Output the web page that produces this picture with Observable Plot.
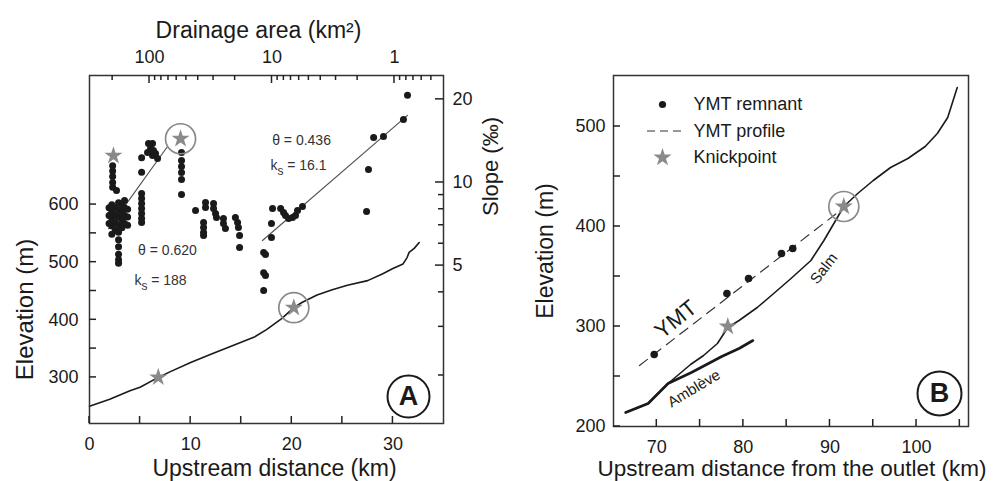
<!DOCTYPE html>
<html><head><meta charset="utf-8">
<script src="https://cdn.jsdelivr.net/npm/d3@7"></script>
<script src="https://cdn.jsdelivr.net/npm/@observablehq/plot@0.6"></script>
<style>
body{margin:0;background:#fff;}
#wrap{position:relative;width:995px;height:481px;background:#fff;}
#wrap svg{position:absolute;left:0;top:0;}
</style></head><body><div id="wrap"></div>
<script>
// ---------- Panel A: longitudinal profile (elevation vs upstream distance) ----------
const profileDist = [0, 2, 4, 5, 6.8, 8, 10, 12, 14, 16.3, 17.5, 19, 20.2, 21, 22.5, 24, 25.5, 27.5, 29, 30, 31, 31.4, 31.6, 32.1, 32.6];
const profileElev = [250, 262, 277, 283, 300, 310, 326, 340, 354, 370, 383, 402, 421, 430, 443, 452, 460, 468, 480, 489, 497, 508, 517, 524, 534];
const knickADist = [6.8, 20.2];
const knickAElev = [300, 421];
const knickACircled = [false, true];

// ---------- Panel A: slope-area data (drainage area km2, slope permil) ----------
const slopeDots = [
  [214,8.1],[214,7.6],[214,7.1],
  [200,11.5],[200,11.0],[200,10.5],[200,10.0],[200,9.6],[203,8.3],[203,7.85],[203,7.4],[203,6.95],[203,6.5],
  [186,9.35],
  [190,8.1],[190,7.6],[190,7.15],[190,6.7],
  [179,8.45],[179,7.95],[179,7.5],[179,7.0],[179,6.6],[179,6.2],[179,5.85],[179,5.5],[179,5.25],[179,5.1],
  [168,8.3],[168,7.8],[168,7.3],[168,6.85],
  [160,8.6],[160,8.1],[160,7.6],[160,7.1],
  [151,8.0],[151,7.5],[151,7.0],
  [116,12.3],[116,10.9],[116,9.13],[116,8.75],[116,8.39],[116,8.05],[116,7.72],[116,7.4],[116,7.16],
  [101.9,13.85],[94.5,13.85],[98.1,13.28],[92.8,13.06],[89.3,12.74],[86.0,12.2],[94.5,12.53],[103.8,12.85],
  [54.8,12.85],[54.8,12.0],[54.8,11.43],[54.8,10.87],[54.8,10.25],[54.8,9.05],
  [42.1,7.91],[34.9,8.46],[34.9,8.11],[36.2,7.16],[36.2,6.87],[36.2,6.59],[36.2,6.42],
  [30.0,8.39],[30.0,8.05],[28.9,7.72],[28.4,7.46],[24.9,7.4],[24.9,7.1],[24.0,6.81],
  [19.9,7.46],[19.1,7.16],[18.8,6.87],[18.4,6.42],[18.4,5.81],
  [9.9,8.05],[8.5,8.05],[8.05,7.78],[7.76,7.59],[7.33,7.4],[6.8,7.46],[6.43,7.59],[6.19,7.91],[5.64,8.18],
  [10.1,7.1],[10.1,6.32],[11.7,5.58],[11.3,5.49],[11.7,4.71],[11.3,4.6],[11.7,4.06],
  [0.783,20.7],[0.845,16.9],[1.48,14.56],[1.23,14.68],[1.63,11.15],[1.69,7.85]
];
const fit1 = [[216, 6.81], [71.3, 13.5]];
const fit2 = [[11.96, 6.16], [0.783, 17.5]];
const knickSArea = [197, 55.8];
const knickSSlope = [12.5, 14.4];
const knickSCircled = [false, true];
const fitLabels = [
  {a: 71.3, s: 5.67, t: "θ = 0.620"},
  {a: 81.3, s: 4.41, t: "ks = 188"},
  {a: 5.74, s: 14.2, t: "θ = 0.436"},
  {a: 6.08, s: 11.5, t: "ks = 16.1"}
];

// ---------- Panel B ----------
const salmDist = [66.4, 69.0, 71.3, 73.9, 75.4, 77.0, 78.2, 79.5, 81.6, 83.5, 85.5, 87.8, 89.3, 91.6, 93.2, 95, 97.0, 99.0, 101, 102.4, 103.6, 104.7];
const salmElev = [214, 223, 243, 262, 271, 283, 299, 306, 319, 333, 348, 366, 386, 420, 433, 446, 459, 468, 480, 493, 509, 539];
const ambleveDist = [66.4, 69.0, 71.3, 74, 77.5, 79.5, 81.1];
const ambleveElev = [214, 223, 243, 254, 270, 278, 286];
const ymtProfileDist = [68, 91.5];
const ymtProfileElev = [261, 418];
const ymtRemnantDist = [69.7, 78.1, 80.6, 84.4, 85.7];
const ymtRemnantElev = [272, 333, 348, 373, 378];
const knickBDist = [78.2, 91.6];
const knickBElev = [300, 420];
const knickBCircled = [false, true];
const riverLabels = [
  {x: 72.2, y: 307, t: "YMT", r: -39, size: 22},
  {x: 89.3, y: 358, t: "Salm", r: -52, size: 15},
  {x: 74.3, y: 238, t: "Amblève", r: -31, size: 15}
];

// ---------- ticks ----------
const distTicks = [0, 10, 20, 30], distMinor = [5, 15, 25];
const elevTicks = [300, 400, 500, 600], elevMinor = [350, 450, 550];
const areaTicks = [100, 10, 1];
const areaMinor = [200, 90, 80, 70, 60, 50, 40, 30, 20, 9, 8, 7, 6, 5, 4, 3, 2, 0.9, 0.8, 0.7, 0.6, 0.5];
const slopeTicks = [20, 10, 5], slopeMinor = [2, 3, 4, 6, 7, 8, 9];
const bDistTicks = [70, 80, 90, 100], bDistMinor = [75, 85, 95, 105];
const bElevTicks = [200, 300, 400, 500], bElevMinor = [250, 350, 450];

const FONT = "'Liberation Sans', Arial, Helvetica, sans-serif";
const INK = "#1a1a1a", GREY = "#8a8a8a", TICK = "#222";
const W = 995, H = 481;
const common = {width: W, height: H, style: {background: "transparent", fontFamily: FONT, fontSize: "18px", color: INK, overflow: "visible"}};
const C = {textAnchor: "middle", lineAnchor: "middle", fill: INK};

const profile = profileDist.map((d, i) => ({d, e: profileElev[i]}));
const knickA = knickADist.map((d, i) => ({d, e: knickAElev[i], c: knickACircled[i]}));

const mA = {marginLeft: 89, marginRight: 552, marginTop: 75, marginBottom: 58};
const A1 = Plot.plot({
  ...common, ...mA,
  x: {domain: [0, 35]},
  y: {domain: [220, 824]},
  marks: [
    Plot.axisX(distTicks, {tickSize: 0, tickPadding: 14, fontSize: 18, label: null}),
    Plot.axisY(elevTicks, {tickSize: 0, tickPadding: 11, fontSize: 18, label: null}),
    Plot.line(profile, {x: "d", y: "e", stroke: INK, strokeWidth: 1.6}),
    Plot.dot(knickA.filter(k => k.c), {x: "d", y: "e", r: 15, stroke: GREY, strokeWidth: 1.7, fill: "none"}),
    Plot.dot(knickA, {x: "d", y: "e", symbol: "star", r: 5.7, fill: GREY}),
    Plot.frame({stroke: "#333", strokeWidth: 1.5}),
    Plot.dot([0], {frameAnchor: "bottom-right", dx: -35, dy: -27, r: 21, stroke: INK, strokeWidth: 2, fill: "white"}),
    Plot.text(["A"], {...C, frameAnchor: "bottom-right", dx: -35, dy: -27, fontSize: 27, fontWeight: "bold"}),
    Plot.text(["Elevation (m)"], {...C, frameAnchor: "left", dx: -64, dy: 60, rotate: -90, fontSize: 24}),
    Plot.text(["Upstream distance (km)"], {...C, frameAnchor: "bottom", dx: 8, dy: 45, fontSize: 23})
  ]
});

const dots = slopeDots.map(([a, s]) => ({a, s}));
const f1 = fit1.map(([a, s]) => ({a, s}));
const f2 = fit2.map(([a, s]) => ({a, s}));
const knickS = knickSArea.map((a, i) => ({a, s: knickSSlope[i], c: knickSCircled[i]}));

const A2 = Plot.plot({
  ...common, ...mA,
  x: {type: "log", domain: [309, 0.398]},
  y: {type: "log", domain: [1.34, 24.4]},
  marks: [
    Plot.axisX(areaTicks, {anchor: "top", tickSize: 0, tickPadding: 13, fontSize: 18, tickFormat: d => String(d), label: null}),
    Plot.axisY(slopeTicks, {anchor: "right", tickSize: 0, tickPadding: 9, fontSize: 18, tickFormat: d => String(d), label: null}),
    Plot.line(f1, {x: "a", y: "s", stroke: "#555", strokeWidth: 1.2}),
    Plot.line(f2, {x: "a", y: "s", stroke: "#555", strokeWidth: 1.2}),
    Plot.dot(dots, {x: "a", y: "s", r: 3.5, fill: INK}),
    Plot.dot(knickS.filter(k => k.c), {x: "a", y: "s", r: 15, stroke: GREY, strokeWidth: 1.7, fill: "none"}),
    Plot.dot(knickS, {x: "a", y: "s", symbol: "star", r: 5.7, fill: GREY}),
    Plot.text(fitLabels, {x: "a", y: "s", text: "t", fontSize: 14, fill: "#333"}),
    Plot.text(["Drainage area (km²)"], {...C, frameAnchor: "top", dx: -8, dy: -45, fontSize: 23}),
    Plot.text(["Slope (‰)"], {...C, frameAnchor: "right", dx: 47, dy: -83, rotate: -90, fontSize: 22})
  ]
});

const salm = salmDist.map((x, i) => ({x, y: salmElev[i]}));
const amb = ambleveDist.map((x, i) => ({x, y: ambleveElev[i]}));
const ymtP = ymtProfileDist.map((x, i) => ({x, y: ymtProfileElev[i]}));
const ymtR = ymtRemnantDist.map((x, i) => ({x, y: ymtRemnantElev[i]}));
const knickB = knickBDist.map((x, i) => ({x, y: knickBElev[i], c: knickBCircled[i]}));

const mB = {marginLeft: 613, marginRight: 27, marginTop: 75, marginBottom: 55};
const B = Plot.plot({
  ...common, ...mB,
  x: {domain: [65.0, 106.0]},
  y: {domain: [200, 551]},
  marks: [
    Plot.axisX(bDistTicks, {tickSize: 0, tickPadding: 14, fontSize: 18, label: null}),
    Plot.axisY(bElevTicks, {tickSize: 0, tickPadding: 8, fontSize: 18, label: null}),
    Plot.line(ymtP, {x: "x", y: "y", stroke: "#333", strokeWidth: 1.2, strokeDasharray: "10,7"}),
    Plot.line(amb, {x: "x", y: "y", stroke: INK, strokeWidth: 2.6}),
    Plot.line(salm, {x: "x", y: "y", stroke: INK, strokeWidth: 1.6}),
    Plot.dot(ymtR, {x: "x", y: "y", r: 3.8, fill: INK}),
    Plot.dot(knickB.filter(k => k.c), {x: "x", y: "y", r: 15, stroke: GREY, strokeWidth: 1.7, fill: "none"}),
    Plot.dot(knickB, {x: "x", y: "y", symbol: "star", r: 5.7, fill: GREY}),
    Plot.text(riverLabels, {x: "x", y: "y", text: "t", rotate: "r", fontSize: d => d.size, fill: INK}),
    Plot.frame({stroke: "#333", strokeWidth: 1.5}),
    Plot.dot([0], {frameAnchor: "bottom-right", dx: -29, dy: -33, r: 22, stroke: INK, strokeWidth: 2, fill: "white"}),
    Plot.text(["B"], {...C, frameAnchor: "bottom-right", dx: -29, dy: -33, fontSize: 27, fontWeight: "bold"}),
    // legend
    Plot.dot([0], {frameAnchor: "top-left", dx: 49, dy: 29, r: 3.6, fill: INK}),
    Plot.dot([0], {frameAnchor: "top-left", dx: 49, dy: 82, symbol: "star", r: 5.7, fill: GREY}),
    Plot.text(["YMT remnant"], {...C, frameAnchor: "top-left", dx: 80, dy: 29, textAnchor: "start", fontSize: 18}),
    Plot.text(["YMT profile"], {...C, frameAnchor: "top-left", dx: 80, dy: 56, textAnchor: "start", fontSize: 18}),
    Plot.text(["Knickpoint"], {...C, frameAnchor: "top-left", dx: 80, dy: 82, textAnchor: "start", fontSize: 18}),
    Plot.text(["Elevation (m)"], {...C, frameAnchor: "left", dx: -68, dy: 0, rotate: -90, fontSize: 23}),
    Plot.text(["Upstream distance from the outlet (km)"], {...C, frameAnchor: "bottom", dx: 1, dy: 42, fontSize: 22.5})
  ]
});

const wrap = document.getElementById("wrap");
[A1, A2, B].forEach(s => wrap.appendChild(s));

// dedicated top overlay for inward tick marks, positioned through each plot's own scales
const overlay = d3.select(wrap).append("svg")
  .attr("width", W).attr("height", H).attr("viewBox", `0 0 ${W} ${H}`)
  .style("position", "absolute").style("left", "0px").style("top", "0px").style("z-index", 10);
function ticks(svg, m, side, values, len) {
  const L = m.marginLeft, R = W - m.marginRight, T = m.marginTop, Bo = H - m.marginBottom;
  const sx = svg.scale("x"), sy = svg.scale("y");
  values.forEach(v => {
    let x1, x2, y1, y2;
    if (side === "bottom" || side === "top") {
      x1 = x2 = sx.apply(v);
      y1 = side === "bottom" ? Bo : T; y2 = side === "bottom" ? Bo - len : T + len;
    } else {
      y1 = y2 = sy.apply(v);
      x1 = side === "left" ? L : R; x2 = side === "left" ? L + len : R - len;
    }
    if ([x1, x2, y1, y2].every(Number.isFinite))
      overlay.append("line").attr("x1", x1).attr("x2", x2).attr("y1", y1).attr("y2", y2)
        .attr("stroke", TICK).attr("stroke-width", 1.5);
  });
}
ticks(A1, mA, "bottom", distTicks.concat(distMinor), 7);
ticks(A1, mA, "left", elevTicks.concat(elevMinor), 7);
ticks(A2, mA, "top", areaMinor, 5);
ticks(A2, mA, "top", areaTicks, 8);
ticks(A2, mA, "right", slopeMinor, 5);
ticks(A2, mA, "right", slopeTicks, 8);
ticks(B, mB, "bottom", bDistTicks.concat(bDistMinor), 7);
ticks(B, mB, "left", bElevTicks.concat(bElevMinor), 7);

// legend dashed swatch for "YMT profile"
overlay.append("line")
  .attr("x1", 647).attr("x2", 681).attr("y1", 131).attr("y2", 131)
  .attr("stroke", "#333").attr("stroke-width", 1.2).attr("stroke-dasharray", "8,5");

// subscript "s" in k_s labels
d3.select(A2).selectAll("text").filter(function () { return this.textContent.startsWith("ks ="); })
  .each(function () {
    const rest = this.textContent.slice(2);
    const t = d3.select(this); this.textContent = "";
    t.append("tspan").text("k");
    t.append("tspan").attr("dy", 5).attr("font-size", "0.85em").text("s");
    t.append("tspan").attr("dy", -5).text(rest);
  });
</script>
</body></html>
